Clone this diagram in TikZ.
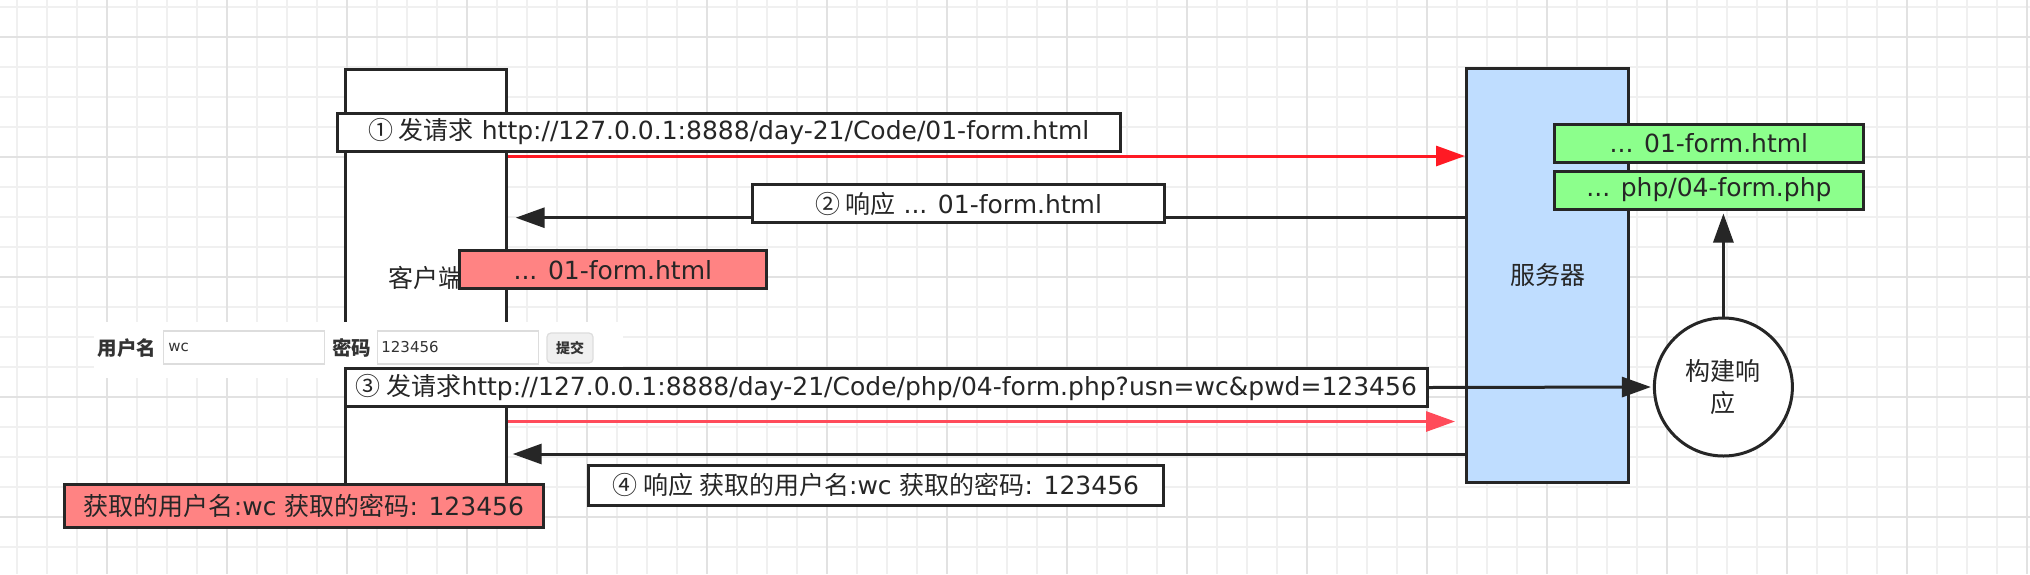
\documentclass[tikz,border=0pt]{standalone}
\usepackage{fontspec}
\setmainfont{DejaVu Sans}
\newfontfamily\cjk{Noto Sans CJK SC}
\usetikzlibrary{arrows.meta, positioning}

\newcommand{\zh}[1]{{\cjk #1}}

\definecolor{ink}{HTML}{262626}
\definecolor{gridminor}{HTML}{F0F0F0}
\definecolor{gridmajor}{HTML}{E2E2E2}
\definecolor{reqred}{HTML}{FF1A24}
\definecolor{reqpink}{HTML}{FF4B5A}
\definecolor{pinkfill}{HTML}{FF8383}
\definecolor{okgreen}{HTML}{8CFF8C}
\definecolor{srvblue}{HTML}{BFDDFF}
\definecolor{formtext}{HTML}{333333}
\definecolor{fieldline}{HTML}{DDDDDD}

\begin{document}
\begin{tikzpicture}[
            x = 0.5pt, y = -0.5pt,
            > = {Triangle[length=14.5pt, width=10pt]},
            line width = 1.5pt,
            font = \fontsize{12.5}{15}\selectfont
        ]

        \tikzstyle{box}=[
            draw = ink,
            line width = 1.5pt,
            fill = white,
            text = ink,
            inner sep = 0pt
        ]
        \tikzstyle{lbl}=[box, minimum height = 19pt]
        \tikzstyle{field}=[draw = fieldline, line width = 0.6pt, fill = white, minimum height = 16.5pt]
        \tikzstyle{formlbl}=[text = formtext, font = \fontsize{9.75}{12}\selectfont\bfseries]
        \tikzstyle{fieldtxt}=[text = formtext, inner sep = 0pt, font = \fontsize{7.5}{9}\selectfont]
        %\tikzset{every node/.append style={font=\large}}

        \useasboundingbox (0,0) rectangle (2030,574);
        \fill[white] (0,0) rectangle (2030,574);

        % grid
        \foreach \gx in {16.7,46.7,...,2030} \draw[gridminor, line width=1pt] (\gx,0) -- (\gx,574);
        \foreach \gy in {6.7,36.7,...,574} \draw[gridminor, line width=1pt] (0,\gy) -- (2030,\gy);
        \foreach \gx in {106.7,226.7,...,2030} \draw[gridmajor, line width=1pt] (\gx,0) -- (\gx,574);
        \foreach \gy in {36.7,156.7,...,574} \draw[gridmajor, line width=1pt] (0,\gy) -- (2030,\gy);

        \node[box, minimum width=80.5pt, minimum height=208.5pt] (client) at (425.7,278) {\zh{客户端}};
        \node[box, fill=srvblue, minimum width=81pt, minimum height=207pt] (server) at (1547.5,275) {\zh{服务器}};
        \node[box, circle, minimum size=69pt, align=center, font=\fontsize{12.5}{16}\selectfont] (build) at (1723.4,387) {\zh{构建响}\\\zh{应}};

        \node[lbl, fill=okgreen, minimum width=154.6pt] (okhtml) at (1708.9,143) {... 01-form.html};
        \node[lbl, fill=okgreen, minimum width=154.6pt, below=3pt of okhtml] (okphp) {... php/04-form.php};

        \coordinate (y1) at (0,156);
        \coordinate (y2) at (0,217.7);
        \coordinate (y3) at (0,421.5);
        \coordinate (y4) at (0,454);

        \draw[->, reqred] (client.east |- y1) -- (server.west |- y1);
        \draw[->, ink, shorten >=4pt] (server.west |- y2) -- (client.east |- y2);
        \draw[->, reqpink, shorten >=5pt] (client.east |- y3) -- (server.west |- y3);
        \draw[->, ink, shorten >=2.5pt] (server.west |- y4) -- (client.east |- y4);
        \draw[->, ink, shorten >=1.5pt] (build.north) -- (build.north |- okphp.south);

        \node[lbl, minimum width=391.5pt] (req1) at (728.9,132) {\zh{① 发请求} http://127.0.0.1:8888/day-21/Code/01-form.html};
        \node[lbl, minimum width=205.7pt] (resp2) at (958.5,203.7) {\zh{② 响应} ... 01-form.html};
        \node[lbl, fill=pinkfill, minimum width=153.7pt] (page1) at (612.8,269.8) {... 01-form.html};

        % form screenshot
        \fill[white] (94,322) rectangle (623,378);
        \node[formlbl] (unamelbl) at (127,348) {\zh{用户名}};
        \node[field, minimum width=80.5pt] (unamebox) at (244,347.5) {};
        \node[fieldtxt, right=2pt of unamebox.west] (unameval) {wc};
        \node[formlbl] (pwdlbl) at (351.5,348) {\zh{密码}};
        \node[field, minimum width=80.5pt] (pwdbox) at (458,347.5) {};
        \node[fieldtxt, right=1.5pt of pwdbox.west] (pwdval) {123456};
        \node[field, fill=black!6, rounded corners=2pt, minimum width=23pt, minimum height=15pt, text=formtext,
              font=\fontsize{7}{9}\selectfont\bfseries] (submit) at (570,348) {\zh{提交}};

        \node[lbl, minimum width=541.2pt] (req3) at (886.4,387.5) {\zh{③ 发请求}http://127.0.0.1:8888/day-21/Code/php/04-form.php?usn=wc\&pwd=123456};
        \draw[->, ink, shorten >=1pt] (req3.east) -- (build.west);

        \node[lbl, minimum width=287.5pt, minimum height=20pt] (resp4) at (876,485.1) {\zh{④ 响应 获取的用户名}:wc \zh{获取的密码}: 123456};
        \node[lbl, fill=pinkfill, minimum width=239.1pt, minimum height=21.8pt] (page2) at (304,506) {\zh{获取的用户名}:wc \zh{获取的密码}: 123456};

    \end{tikzpicture}
\end{document}
